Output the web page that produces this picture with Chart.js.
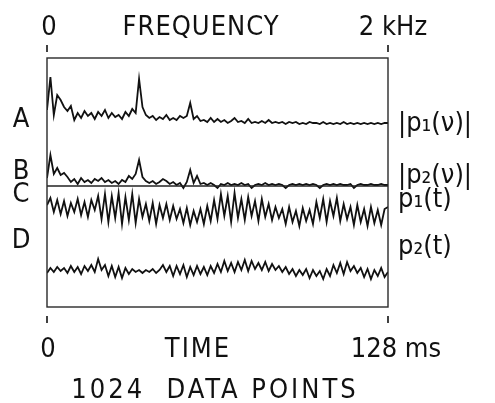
<!DOCTYPE html>
<html lang="en">
<head>
  <meta charset="UTF-8">
  <title>Spectra and time traces</title>
  <script src="https://cdn.jsdelivr.net/npm/chart.js@4.4.0/dist/chart.umd.min.js"></script>
  <style>
    html, body { margin: 0; padding: 0; background: #fff; }
    canvas { display: block; }
  </style>
</head>
<body>
<canvas id="traces" width="495" height="403"></canvas>
<script>
  // 101 samples per trace
  // A, B: spectrum height above zero; C, D: deflection about the centre line
  const traceA = [15,48,10,30,25,18,14,19,5,12,
    7,14,9,12,6,13,9,15,7,12,
    8,10,6,13,9,16,12,46,18,10,
    7,9,5,8,6,10,5,7,5,9,
    7,9,22,6,9,4,5,3,7,3,
    6,3,5,2,4,7,3,4,2,6,
    2,3,2,4,2,5,2,3,2,3,
    1,3,2,3,1,2,1,3,2,2,
    1,3,1,2,1,2,1,3,1,2,
    1,2,1,2,1,2,1,2,1,2,2];
  const traceB = [8,31,12,18,11,13,9,4,7,2,
    8,4,6,3,7,5,8,4,6,3,
    5,2,6,4,10,7,12,26,9,5,
    3,5,2,4,7,5,2,4,1,3,
    -2,4,16,3,10,2,3,1,3,1,
    -2,2,1,3,1,2,1,3,1,2,
    -2,1,2,1,3,1,2,1,2,1,
    -2,1,2,1,2,1,2,1,2,1,
    -2,1,2,1,2,1,2,1,1,2,
    -2,1,2,1,1,2,1,1,2,1,1];
  const traceC = [3,10,-4,8,-6,7,-8,5,-4,9,
    -7,6,-9,8,-2,12,-11,14,-14,12,
    -10,15,-16,11,-12,14,-15,9,-9,4,
    -13,5,-16,3,-10,4,-12,2,-11,-1,
    -15,0,-17,-3,-14,-1,-16,2,-13,8,
    -11,14,-8,12,-14,15,-10,9,-12,11,
    -8,7,-13,9,-9,4,-12,1,-10,-1,
    -16,1,-14,-3,-18,0,-13,-2,-16,6,
    -10,9,-14,7,-8,10,-13,4,-11,1,
    -17,3,-14,-1,-18,1,-15,-2,-17,-1,1];
  const traceD = [-3,2,-2,3,-1,2,-3,4,-2,3,
    -4,4,-1,5,-2,11,0,5,-6,4,
    -7,3,-8,2,-4,1,-2,0,-3,0,
    -2,1,-3,0,5,-2,4,-6,4,-4,
    5,-7,3,-5,4,-4,3,-5,4,-3,
    6,-2,9,-1,7,-2,8,0,10,-1,
    9,1,7,0,8,-1,6,0,4,-2,
    3,-4,1,-6,0,-5,1,-8,0,-6,
    -1,-9,1,-6,5,-3,7,-4,8,-1,
    4,-3,2,-7,1,-9,0,-6,2,-7,-2];

  const freqRange = [0, 2];      // kHz
  const freqLabels = ['0', '2 kHz'];
  const timeRange = [0, 128];    // ms
  const timeLabels = ['0', '128 ms'];
  const rowLetters = ['A', 'B', 'C', 'D'];
  const rowNames = ['|p\u2081(\u03bd)|', '|p\u2082(\u03bd)|', 'p\u2081(t)', 'p\u2082(t)'];

  // stacking: where each trace sits on the shared y scale
  const rowBase = [182, 121, 99, 37];
  const letterY = [187, 135, 112, 66];
  const nameY = [183, 131, 107, 60];

  function toPoints(vals, range, base) {
    const step = (range[1] - range[0]) / (vals.length - 1);
    return vals.map((v, i) => ({ x: range[0] + i * step, y: base + v }));
  }

  const lineStyle = {
    borderColor: '#111',
    borderWidth: 1.8,
    pointRadius: 0,
    tension: 0,
    fill: false
  };

  const datasets = [
    Object.assign({ label: 'A', xAxisID: 'xf', data: toPoints(traceA, freqRange, rowBase[0]) }, lineStyle),
    Object.assign({ label: 'B zero', xAxisID: 'xf', data: toPoints([0, 0], freqRange, rowBase[1]) }, lineStyle, { borderWidth: 1.4, borderColor: '#222' }),
    Object.assign({ label: 'B', xAxisID: 'xf', data: toPoints(traceB, freqRange, rowBase[1]) }, lineStyle),
    Object.assign({ label: 'C', xAxisID: 'xt', data: toPoints(traceC, timeRange, rowBase[2]) }, lineStyle),
    Object.assign({ label: 'D', xAxisID: 'xt', data: toPoints(traceD, timeRange, rowBase[3]) }, lineStyle)
  ];

  const FONT = '"DejaVu Sans Condensed", "Liberation Sans Narrow", "DejaVu Sans", sans-serif';

  function spaced(ctx, text, x, y, gap) {
    ctx.letterSpacing = gap + 'px';
    ctx.fillText(text, x, y);
    ctx.letterSpacing = '0px';
  }

  const platePlugin = {
    id: 'plate',
    afterDraw(chart) {
      const ctx = chart.ctx;
      const area = chart.chartArea;
      const xf = chart.scales.xf, xt = chart.scales.xt, y = chart.scales.y;
      ctx.save();

      // frame
      ctx.strokeStyle = '#2a2a2a';
      ctx.lineWidth = 1.4;
      ctx.strokeRect(area.left, area.top, area.right - area.left, area.bottom - area.top);

      // detached tick marks above and below the frame
      ctx.lineWidth = 1.6;
      ctx.strokeStyle = '#111';
      freqRange.forEach(v => {
        const px = xf.getPixelForValue(v);
        ctx.beginPath();
        ctx.moveTo(px, area.top - 13);
        ctx.lineTo(px, area.top - 6);
        ctx.stroke();
      });
      timeRange.forEach(v => {
        const px = xt.getPixelForValue(v);
        ctx.beginPath();
        ctx.moveTo(px, area.bottom + 9);
        ctx.lineTo(px, area.bottom + 16);
        ctx.stroke();
      });

      ctx.fillStyle = '#111';
      ctx.font = '27px ' + FONT;
      ctx.textBaseline = 'alphabetic';
      ctx.textAlign = 'center';

      // top axis
      ctx.fillText(freqLabels[0], xf.getPixelForValue(freqRange[0]) + 2, area.top - 23);
      ctx.fillText(freqLabels[1], xf.getPixelForValue(freqRange[1]) + 5, area.top - 23);
      spaced(ctx, 'FREQUENCY', area.left + 154, area.top - 23, 1);

      // bottom axis
      ctx.fillText(timeLabels[0], xt.getPixelForValue(timeRange[0]) + 1, area.bottom + 50);
      ctx.fillText(timeLabels[1], xt.getPixelForValue(timeRange[1]) + 8, area.bottom + 50);
      spaced(ctx, 'TIME', area.left + 151, area.bottom + 50, 2);
      spaced(ctx, '1024  DATA POINTS', area.left + 168, area.bottom + 91, 3);

      // row letters and names
      ctx.textBaseline = 'middle';
      rowLetters.forEach((t, i) => {
        ctx.fillText(t, area.left - 26, y.getPixelForValue(letterY[i]));
      });
      ctx.textAlign = 'left';
      rowNames.forEach((t, i) => {
        ctx.fillText(t, area.right + 10, y.getPixelForValue(nameY[i]));
      });

      ctx.restore();
    }
  };

  new Chart(document.getElementById('traces'), {
    type: 'line',
    data: { datasets: datasets },
    options: {
      responsive: false,
      animation: false,
      layout: { padding: { left: 47, right: 107, top: 58, bottom: 96 } },
      plugins: { legend: { display: false }, tooltip: { enabled: false } },
      scales: {
        xf: { type: 'linear', position: 'top', min: freqRange[0], max: freqRange[1], display: false },
        xt: { type: 'linear', position: 'bottom', min: timeRange[0], max: timeRange[1], display: false },
        y: { type: 'linear', min: 0, max: 249, display: false }
      }
    },
    plugins: [platePlugin]
  });
</script>
</body>
</html>
